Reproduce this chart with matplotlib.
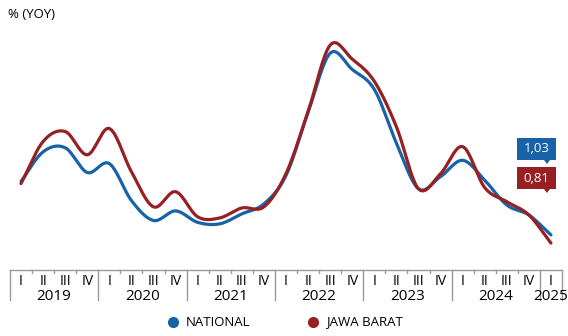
import numpy as np
import matplotlib
matplotlib.use("Agg")
import matplotlib.pyplot as plt
from matplotlib.lines import Line2D
from matplotlib.patches import Polygon

years = ["2019", "2020", "2021", "2022", "2023", "2024", "2025"]
quarters = ["I", "II", "III", "IV"]

national = [2.48, 3.28, 3.39, 2.72, 2.96, 1.96, 1.42, 1.68,
            1.37, 1.33, 1.60, 1.87, 2.64, 4.35, 5.95, 5.51,
            4.97, 3.52, 2.28, 2.61, 3.05, 2.51, 1.84, 1.57, 1.03]
jabar = [2.42, 3.56, 3.83, 3.20, 3.91, 2.74, 1.79, 2.20,
         1.52, 1.49, 1.76, 1.79, 2.69, 4.37, 6.17, 5.79,
         5.19, 3.96, 2.28, 2.69, 3.42, 2.31, 1.93, 1.57, 0.81]

BLUE = "#1762a8"
RED = "#962022"
GRAY = "#9a9a9a"
FONT = ["Open Sans", "DejaVu Sans"]


def smooth(y, n=20):
    # catmull-rom through the quarterly points
    y = np.asarray(y, float)
    p = np.concatenate([[2 * y[0] - y[1]], y, [2 * y[-1] - y[-2]]])
    xs, ys = [], []
    t = np.linspace(0, 1, n, endpoint=False)
    for i in range(1, len(p) - 2):
        p0, p1, p2, p3 = p[i - 1], p[i], p[i + 1], p[i + 2]
        seg = 0.5 * ((2 * p1) + (-p0 + p2) * t + (2 * p0 - 5 * p1 + 4 * p2 - p3) * t ** 2
                     + (-p0 + 3 * p1 - 3 * p2 + p3) * t ** 3)
        xs.append(i - 1 + t)
        ys.append(seg)
    xs.append([len(y) - 1])
    ys.append([y[-1]])
    return np.concatenate(xs), np.concatenate(ys)


W, H = 568, 336
fig = plt.figure(figsize=(W / 100, H / 100), dpi=100)
ax = fig.add_axes([10 / W, 1 - 270 / H, 552 / W, 250 / H])

n = len(national)
x1, y1 = smooth(national)
x2, y2 = smooth(jabar)
ax.plot(x1, y1, color=BLUE, lw=2.3, solid_capstyle="round")
ax.plot(x2, y2, color=RED, lw=2.3, solid_capstyle="round")

ax.set_xlim(-0.5, n - 0.5)
ax.set_ylim(0.08, 6.85)
for s in ["top", "right", "left"]:
    ax.spines[s].set_visible(False)
ax.spines["bottom"].set_color(GRAY)
ax.spines["bottom"].set_linewidth(1)
ax.set_yticks([])
ax.set_xticks(np.arange(n))
ax.set_xticklabels([quarters[i % 4] for i in range(n)], fontsize=10, family=FONT)
ax.tick_params(axis="x", length=0, pad=3)

# small ticks between quarters, long separators between years
for b in np.arange(-0.5, n, 1.0):
    is_year = (b + 0.5) % 4 == 0 or b == n - 0.5
    ln = 30 if is_year else 3
    ax.add_line(Line2D([b, b], [0, -ln / 250], transform=ax.get_xaxis_transform(),
                       color=GRAY, lw=1, clip_on=False))

for k, yr in enumerate(years):
    start = 4 * k
    end = min(4 * k + 3, n - 1)
    ax.text((start + end) / 2, -27 / 250, yr, transform=ax.get_xaxis_transform(),
            ha="center", va="center", fontsize=11, family=FONT)

fig.text(8 / W, 1 - 14 / H, "% (YOY)", fontsize=9.5, family=FONT, va="center")


def px(x, y):
    return (x / W, 1 - y / H)


# value callouts
for val, col, top in [(national[-1], BLUE, 138), (jabar[-1], RED, 167)]:
    bot = top + 22
    pts = [px(517, top), px(556, top), px(556, bot), px(550, bot), px(547, bot + 4),
           px(544, bot), px(517, bot)]
    fig.add_artist(Polygon(pts, closed=True, fc=col, ec="none", transform=fig.transFigure))
    fig.text(536.5 / W, 1 - (top + 11) / H, f"{val:.2f}".replace(".", ","), color="white",
             fontsize=9.5, family=FONT, ha="center", va="center")

# legend
fig.add_artist(Line2D([173 / W], [1 - 322 / H], marker="o", ms=7, color=BLUE,
                      transform=fig.transFigure))
fig.text(186 / W, 1 - 322 / H, "NATIONAL", fontsize=9.5, family=FONT, va="center")
fig.add_artist(Line2D([313 / W], [1 - 322 / H], marker="o", ms=7, color=RED,
                      transform=fig.transFigure))
fig.text(326 / W, 1 - 322 / H, "JAWA BARAT", fontsize=9.5, family=FONT, va="center")

fig.savefig("out.png", dpi=100)
